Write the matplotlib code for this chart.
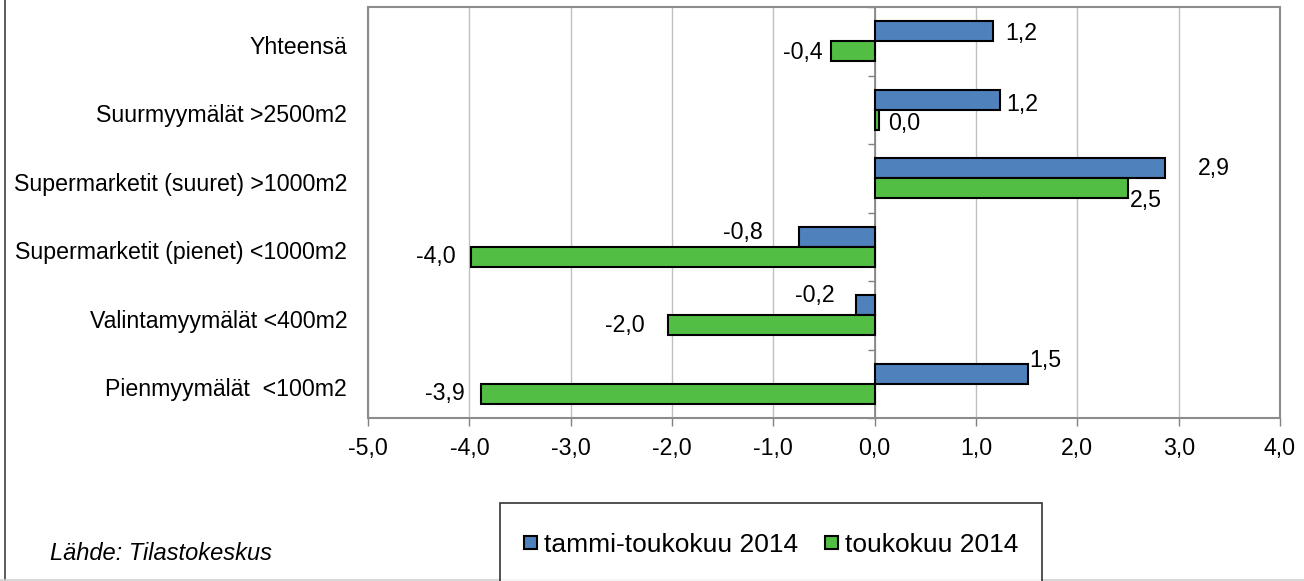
""" Vähittäiskaupan myynnin muutos myymälätyypeittäin """

import numpy as np
import matplotlib.pyplot as plt
from matplotlib.legend_handler import HandlerPatch
from matplotlib.patches import Rectangle

plt.rcParams['font.family'] = ['Liberation Sans', 'DejaVu Sans']

# data
categories = ['Yhteensä', 'Suurmyymälät >2500m2', 'Supermarketit (suuret) >1000m2',
              'Supermarketit (pienet) <1000m2', 'Valintamyymälät <400m2', 'Pienmyymälät  <100m2']
series_names = ['tammi-toukokuu 2014', 'toukokuu 2014']
jan_may = [1.17, 1.24, 2.87, -0.75, -0.18, 1.51]
may = [-0.43, 0.04, 2.50, -3.98, -2.04, -3.88]
x_ticks = [-5, -4, -3, -2, -1, 0, 1, 2, 3, 4]

# label nudges in pixels (dx from bar end, dy downwards)
jan_may_offsets = [(12, 2), (6, 5), (32, 0), (-36, -4), (-22, -10), (2, -13)]
may_offsets = [(-8, 1), (9, 4), (2, 12), (-16, 0), (-23, 0), (-17, 0)]

BLUE = '#4F81BD'
GREEN = '#52BF44'
FS = 16.7


def fmt(v):
    return '{:.1f}'.format(v).replace('.', ',')


def add_labels(ax, ypos, values, offsets):
    for y, v, (dx, dy) in zip(ypos, values, offsets):
        ha = 'left' if v >= 0 else 'right'
        ax.annotate(fmt(v), (v, y), xytext=(dx, -dy), textcoords='offset pixels',
                    ha=ha, va='center', fontsize=FS)


def small_square(legend, orig_handle, xdescent, ydescent, width, height, fontsize):
    """ pieni neliö legendan merkiksi """
    s = width
    return Rectangle((-xdescent, -ydescent + (height - s) / 2), s, s)


def main():
    fig = plt.figure(figsize=(13.04, 5.81), dpi=100)
    ax = fig.add_axes([368 / 1304, 1 - 418 / 581, (1280 - 368) / 1304, (418 - 7) / 581])

    y = np.arange(len(categories))
    h = 0.29
    bars1 = ax.barh(y - h / 2, jan_may, height=h, color=BLUE, edgecolor='black',
                    linewidth=1.5, zorder=3)
    bars2 = ax.barh(y + h / 2, may, height=h, color=GREEN, edgecolor='black',
                    linewidth=1.5, zorder=3)
    add_labels(ax, y - h / 2, jan_may, jan_may_offsets)
    add_labels(ax, y + h / 2, may, may_offsets)

    ax.set_xlim(-5, 4)
    ax.set_ylim(len(categories) - 0.5, -0.5)
    ax.set_xticks(x_ticks)
    ax.set_xticklabels([fmt(t) for t in x_ticks], fontsize=FS)
    ax.set_yticks(y + 0.05)
    ax.set_yticklabels(categories, fontsize=FS)
    ax.tick_params(axis='y', length=0, pad=15)
    ax.tick_params(axis='x', length=6, width=1, color='#808080', pad=8)
    ax.grid(axis='x', color='#C0C0C0', linewidth=1, zorder=0)
    ax.set_axisbelow(True)
    for s in ax.spines.values():
        s.set_color('#8C8C8C')
        s.set_linewidth(1.5)

    # zero axis with its own tick marks
    ax.axvline(0, color='#808080', linewidth=1.2, zorder=2)
    bounds = np.arange(len(categories) + 1) - 0.5
    ax.plot(np.zeros(len(bounds)), bounds, ls='none', marker=0, markersize=5,
            color='#808080', clip_on=False, zorder=2)

    handles = [bars1.patches[0], bars2.patches[0]]
    leg = fig.legend(handles, series_names, loc='upper left',
                     bbox_to_anchor=(500 / 1304, 1 - 503 / 581), ncol=2,
                     fontsize=19, frameon=True, fancybox=False, edgecolor='black',
                     handlelength=0.5, handleheight=1.5, handletextpad=0.27,
                     columnspacing=1.0, borderpad=0.9, borderaxespad=0,
                     handler_map={Rectangle: HandlerPatch(patch_func=small_square)})
    leg.get_frame().set_linewidth(1.2)

    fig.text(50 / 1304, 1 - 553 / 581, 'Lähde: Tilastokeskus', style='italic',
             fontsize=17, va='center')

    # outer chart border
    fig.add_artist(plt.Line2D([5 / 1304, 5 / 1304], [0, 1], color='#404040', linewidth=1.2))
    fig.add_artist(plt.Line2D([0, 1], [1 / 581, 1 / 581], color='#D0D0D0', linewidth=1.2))

    fig.savefig('out.png', dpi=100)


if __name__ == "__main__":
    main()
